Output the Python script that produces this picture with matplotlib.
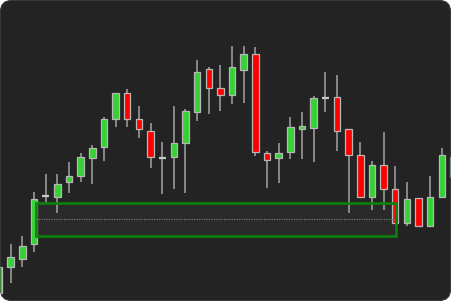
import matplotlib
matplotlib.use("Agg")
import matplotlib.pyplot as plt
from matplotlib.patches import FancyBboxPatch, Rectangle
from matplotlib.transforms import IdentityTransform
import numpy as np

# OHLC values (price units)
opens = [8, 34.3, 41.7, 57, 104.7, 104.3, 118.7, 125.3, 142.7, 154.3,
         182, 207.7, 182, 169.7, 143.3, 143.7, 158.3, 189.3, 231.7, 212.7,
         205.7, 231.3, 247, 147.7, 142.7, 149, 171.7, 173.3, 203, 203.7,
         171.7, 146, 103.7, 136, 111.7, 77.7, 103.3, 75.3, 104.3, 124]
highs = [36, 57, 65, 109.3, 127, 127, 139, 148.3, 155.7, 184.3,
         208, 212, 195, 178.3, 158.7, 195, 191.7, 241, 234.3, 236,
         255, 255, 253.7, 150.3, 157.7, 183.7, 189.3, 205.3, 229, 226,
         171.7, 158.7, 140.3, 169, 135, 119.3, 103.3, 125, 152.7, 150]
lows = [4, 18, 34.3, 48.7, 98.3, 87.7, 108.3, 118.7, 116.7, 140,
        174.3, 173.7, 163.3, 132.7, 106.7, 111.7, 108.3, 180, 187, 190,
        197.3, 197.7, 145.3, 113.3, 118.3, 142.3, 142.3, 139.3, 188.7, 150.3,
        87.7, 103.3, 91, 91, 77.7, 75.3, 75.3, 75, 104.3, 118]
closes = [34, 43.7, 55.3, 101.7, 104.7, 117.3, 124.7, 144.3, 153.3, 182,
          207.7, 182, 172, 143.7, 143.3, 158.3, 189.7, 229.3, 213, 205.7,
          233.7, 247, 149, 140.7, 148, 173.7, 174.7, 202.7, 203, 169.7,
          145.7, 104.3, 135.7, 111.7, 77.7, 101.7, 75.3, 104.3, 146, 144]

# Highlighted zone: start/end candle index and price bounds
zone_start = 3.2
zone_end = 34.05
zone_top = 98.3
zone_bottom = 65.5

W, H = 451, 301
fig = plt.figure(figsize=(W / 100, H / 100), dpi=100)
fig.patch.set_facecolor("white")

ax = fig.add_axes([0, 0, 1, 1])
ax.set_facecolor("none")
ax.set_xlim(0.08, 38.79)
ax.set_ylim(0, 301)
ax.axis("off")

bg = FancyBboxPatch((0.5, 0.5), W - 1, H - 1, boxstyle="round,pad=0,rounding_size=11",
                    transform=IdentityTransform(), facecolor="#232323",
                    edgecolor="#3a3a3a", linewidth=0.8, zorder=0)
ax.add_artist(bg)

x = np.arange(len(opens))
o = np.array(opens); c = np.array(closes); h = np.array(highs); l = np.array(lows)

artists = []
artists.append(ax.vlines(x, l, h, color="#909090", linewidth=1.3, zorder=2))

up = c > o
down = c < o
doji = c == o
artists.extend(ax.bar(x[up], (c - o)[up], bottom=o[up], width=0.56, color="#35d135",
                      edgecolor="#b8b8b8", linewidth=0.9, zorder=3))
artists.extend(ax.bar(x[down], (o - c)[down], bottom=c[down], width=0.56, color="#ff0000",
                      edgecolor="#b8b8b8", linewidth=0.9, zorder=3))
artists.append(ax.hlines(c[doji], x[doji] - 0.3, x[doji] + 0.3, color="#c8c8c8",
                         linewidth=1.6, zorder=3))

zone = Rectangle((zone_start, zone_bottom), zone_end - zone_start, zone_top - zone_bottom,
                 facecolor=(1, 1, 1, 0.035), edgecolor="#0a820a", linewidth=1.9, zorder=4)
ax.add_patch(zone)
artists.append(zone)
mid = (zone_top + zone_bottom) / 2
artists.extend(ax.plot([zone_start, zone_end], [mid, mid], color="#767676",
                       linestyle=(0, (1, 1)), linewidth=0.9, zorder=4))

for a in artists:
    a.set_clip_path(bg)

fig.savefig("out.png", dpi=100)
